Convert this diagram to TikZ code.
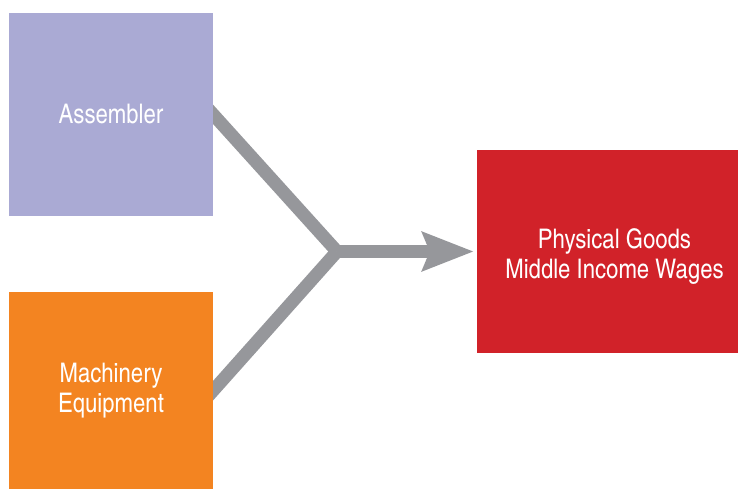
\documentclass[tikz,border=0pt]{standalone}
\usepackage{fontspec}
\setmainfont{texgyreheroscn-regular.otf}
\usetikzlibrary{positioning}
\usetikzlibrary{arrows.meta}
\usetikzlibrary{calc}
\usetikzlibrary{backgrounds}
\definecolor{mylavender}{RGB}{170,170,212}
\definecolor{myorange}{RGB}{243,132,33}
\definecolor{myred}{RGB}{209,34,41}
\definecolor{mygray}{RGB}{150,151,155}
\newcommand{\widthbox}{204pt}
\newcommand{\widthgoal}{261pt}
\tikzset{
    common/.style={rectangle, inner sep=0pt, text=white, align=center,
        font=\fontsize{27pt}{30pt}\selectfont},
    source/.style={common, minimum width=\widthbox},
    goal/.style={common, minimum width=\widthgoal, minimum height=203pt},
    flow/.style={draw=mygray, line width=13pt, line cap=butt},
}

\begin{document}
\begin{tikzpicture}[x=1pt, y=-1pt]
          \useasboundingbox (0,0) rectangle (738,489);

          \node[source, fill=mylavender, minimum height=203pt] (assembler) at (111,114.5) {Assembler};
          \node[source, fill=myorange, minimum height=197pt] (machinery) at (111,390.5) {Machinery\\Equipment};
          \node[goal, fill=myred,
                  label={[common, xshift=7pt, yshift=-5pt]center:{Physical Goods\\Middle Income Wages}}
                      ] (goods) at (607.5,251.5) {};

          \coordinate (join) at (337,251.5);

          \begin{scope}[on background layer]
              \draw[flow] (join) -- ($(join)!1.15!(assembler.east)$);
              \draw[flow] (join) -- ($(join)!1.15!(machinery.east)$);
          \end{scope}
          \draw[flow, -{Stealth[length=51pt, width=38pt, inset=7pt]}, shorten >=3pt] (join) -- (goods.west);

      \end{tikzpicture}
\end{document}
